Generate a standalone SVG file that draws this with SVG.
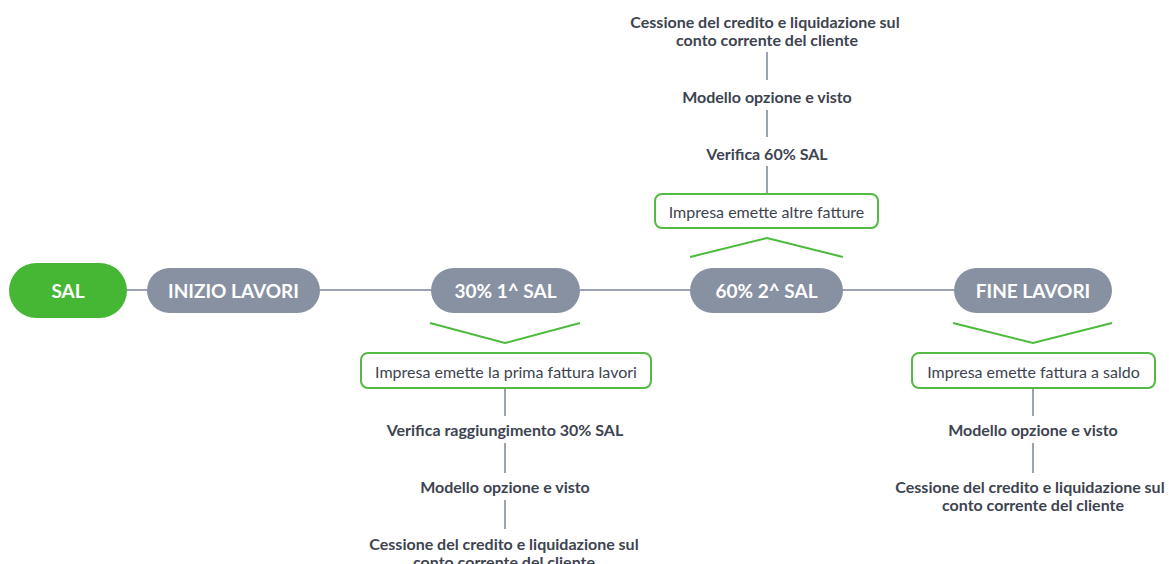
<svg xmlns="http://www.w3.org/2000/svg" width="1169" height="564" viewBox="0 0 1169 564">
  <style>
    .pill-text { font-family: Lato, "Liberation Sans", sans-serif; font-weight: 700; font-size: 19px; fill: #ffffff; text-anchor: middle; dominant-baseline: central; }
    .stage { fill: #8891a2; }
    .root { fill: #45b734; }
    .box { fill: #ffffff; stroke: #55b946; stroke-width: 2; }
    .box-text { font-family: Lato, "Liberation Sans", sans-serif; font-weight: 400; font-size: 16px; fill: #3d4450; text-anchor: middle; dominant-baseline: central; }
    .step-text { font-family: Lato, "Liberation Sans", sans-serif; font-weight: 700; font-size: 16px; fill: #3d4450; text-anchor: middle; dominant-baseline: central; }
    .link { stroke: #9aa3b3; stroke-width: 2; fill: none; }
    .chevron { stroke: #4cbb3c; stroke-width: 2; fill: none; }
  </style>

  <!-- connectors -->
  <g id="connectors">
    <line class="link" x1="126" y1="290" x2="954" y2="290"/>
    <polyline class="chevron" points="430,323 505,343 580,323"/>
    <polyline class="chevron" points="690,257 767,238 843,257"/>
    <polyline class="chevron" points="953,323 1033,343 1112,323"/>
    <!-- 30% branch -->
    <line class="link" x1="505" y1="388" x2="505" y2="416"/>
    <line class="link" x1="505" y1="443" x2="505" y2="473"/>
    <line class="link" x1="505" y1="500" x2="505" y2="529"/>
    <!-- 60% branch -->
    <line class="link" x1="767" y1="166" x2="767" y2="194"/>
    <line class="link" x1="767" y1="110" x2="767" y2="137"/>
    <line class="link" x1="767" y1="52" x2="767" y2="80"/>
    <!-- final branch -->
    <line class="link" x1="1033" y1="388" x2="1033" y2="416"/>
    <line class="link" x1="1033" y1="443" x2="1033" y2="473"/>
  </g>

  <!-- main stages -->
  <g id="sal">
    <rect class="root" x="9" y="263" width="118" height="55" rx="27.5"/>
    <text class="pill-text" x="68" y="290.5">SAL</text>
  </g>
  <g id="inizio-lavori">
    <rect class="stage" x="147" y="268" width="173" height="45" rx="22.5"/>
    <text class="pill-text" x="233.5" y="290.5">INIZIO LAVORI</text>
  </g>
  <g id="sal-30">
    <rect class="stage" x="431" y="268" width="149" height="45" rx="22.5"/>
    <text class="pill-text" x="505.5" y="290.5">30% 1^ SAL</text>
  </g>
  <g id="sal-60">
    <rect class="stage" x="690" y="268" width="153" height="45" rx="22.5"/>
    <text class="pill-text" x="766.5" y="290.5">60% 2^ SAL</text>
  </g>
  <g id="fine-lavori">
    <rect class="stage" x="954" y="268" width="158" height="45" rx="22.5"/>
    <text class="pill-text" x="1033" y="290.5">FINE LAVORI</text>
  </g>

  <!-- 30% branch -->
  <g id="prima-fattura">
    <rect class="box" x="361" y="353" width="290" height="35" rx="7"/>
    <text class="box-text" x="506" y="371">Impresa emette la prima fattura lavori</text>
  </g>
  <g id="verifica-30">
    <text class="step-text" x="505" y="429">Verifica raggiungimento 30% SAL</text>
  </g>
  <g id="modello-30">
    <text class="step-text" x="505" y="486">Modello opzione e visto</text>
  </g>
  <g id="cessione-30">
    <text class="step-text" x="504" y="543">Cessione del credito e liquidazione sul</text>
    <text class="step-text" x="504" y="561">conto corrente del cliente</text>
  </g>

  <!-- 60% branch -->
  <g id="altre-fatture">
    <rect class="box" x="655" y="194" width="223" height="34" rx="7"/>
    <text class="box-text" x="766.5" y="211">Impresa emette altre fatture</text>
  </g>
  <g id="verifica-60">
    <text class="step-text" x="767" y="153">Verifica 60% SAL</text>
  </g>
  <g id="modello-60">
    <text class="step-text" x="767" y="96">Modello opzione e visto</text>
  </g>
  <g id="cessione-60">
    <text class="step-text" x="765" y="21">Cessione del credito e liquidazione sul</text>
    <text class="step-text" x="767" y="39">conto corrente del cliente</text>
  </g>

  <!-- final branch -->
  <g id="fattura-saldo">
    <rect class="box" x="912" y="353" width="243" height="35" rx="7"/>
    <text class="box-text" x="1033.5" y="371">Impresa emette fattura a saldo</text>
  </g>
  <g id="modello-fine">
    <text class="step-text" x="1033" y="429">Modello opzione e visto</text>
  </g>
  <g id="cessione-fine">
    <text class="step-text" x="1030" y="486">Cessione del credito e liquidazione sul</text>
    <text class="step-text" x="1033" y="504">conto corrente del cliente</text>
  </g>
</svg>
